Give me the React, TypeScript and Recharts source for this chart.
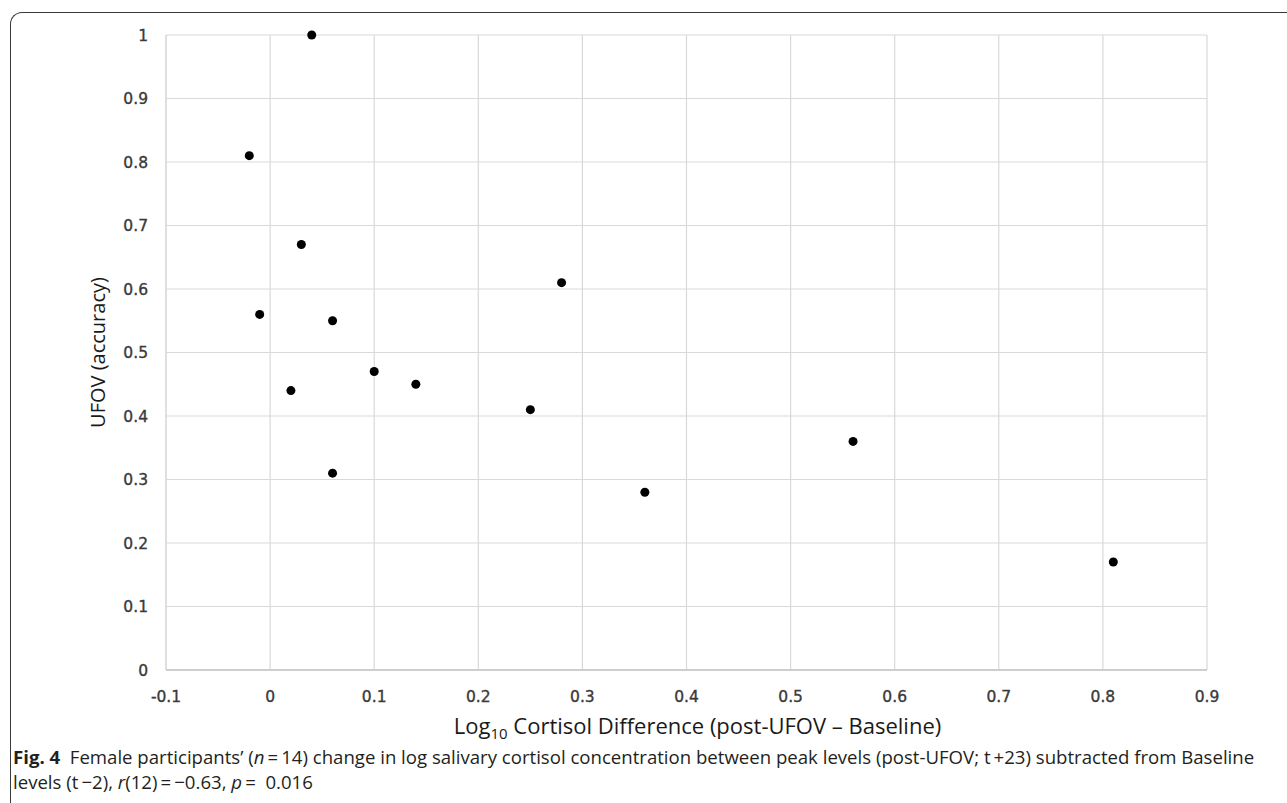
import { ScatterChart, Scatter, XAxis, YAxis, CartesianGrid, Label } from 'recharts';

// Log10 cortisol difference vs UFOV accuracy, one point per participant
const cortisolDiff = [0.04, -0.02, 0.03, -0.01, 0.06, 0.02, 0.1, 0.14, 0.06, 0.25, 0.28, 0.36, 0.56, 0.81];
const ufovAccuracy = [1.0, 0.81, 0.67, 0.56, 0.55, 0.44, 0.47, 0.45, 0.31, 0.41, 0.61, 0.28, 0.36, 0.17];

const xTicks = [-0.1, 0, 0.1, 0.2, 0.3, 0.4, 0.5, 0.6, 0.7, 0.8, 0.9];
const yTicks = [0, 0.1, 0.2, 0.3, 0.4, 0.5, 0.6, 0.7, 0.8, 0.9, 1];

const xTitle = 'Cortisol Difference (post-UFOV \u2013 Baseline)';
const yTitle = 'UFOV (accuracy)';

const points = cortisolDiff.map((x, i) => ({ x, y: ufovAccuracy[i] }));

const fmt = (v: number) => String(Number(v.toFixed(1)));

const tickStyle = {
  fill: '#3a3a3a',
  stroke: '#3a3a3a',
  strokeWidth: 0.35,
  fontSize: 15.5,
  fontFamily: 'DejaVu Sans',
};

const Dot = (props: any) => <circle cx={props.cx} cy={props.cy} r={4.5} fill="#000" />;

const XTitle = (props: any) => {
  const { viewBox } = props;
  const cx = viewBox.x + viewBox.width / 2 + 11;
  const cy = viewBox.y + 64;
  return (
    <text x={cx} y={cy} textAnchor="middle" fontFamily="Open Sans" fontSize={22} fill="#1a1a1a">
      Log<tspan fontSize={15} dy={5}>10</tspan>
      <tspan dy={-5}> {xTitle}</tspan>
    </text>
  );
};

export default function App() {
  return (
    <div style={{ position: 'absolute', left: 0, top: 0, width: 1287, height: 803, overflow: 'hidden', background: '#fff' }}>
      {/* frame */}
      <div
        style={{
          position: 'absolute',
          left: 10,
          top: 12,
          width: 1300,
          height: 800,
          borderTop: '1.5px solid #3a3a3a',
          borderLeft: '1.5px solid #3a3a3a',
          borderTopLeftRadius: 12,
        }}
      />

      <div style={{ position: 'absolute', left: 0, top: 0 }}>
        <ScatterChart width={1287} height={760} margin={{ top: 35, right: 80, bottom: 10, left: 0 }}>
          <CartesianGrid stroke="#d9d9d9" strokeWidth={1.2} />
          <XAxis
            type="number"
            dataKey="x"
            domain={[-0.1, 0.9]}
            ticks={xTicks}
            tickFormatter={fmt}
            axisLine={{ stroke: '#c4c4c4', strokeWidth: 1.5 }}
            tickLine={false}
            tickMargin={15}
            tick={tickStyle}
            height={80}
            interval={0}
          >
            <Label content={<XTitle />} />
          </XAxis>
          <YAxis
            type="number"
            dataKey="y"
            domain={[0, 1]}
            ticks={yTicks}
            tickFormatter={fmt}
            axisLine={{ stroke: '#d9d9d9', strokeWidth: 1.2 }}
            tickLine={false}
            tickMargin={12}
            tick={tickStyle}
            width={166}
            interval={0}
          >
            <Label
              value={yTitle}
              angle={-90}
              position="center"
              dx={15}
              style={{ fontFamily: 'Open Sans', fontSize: 20, fill: '#1a1a1a' }}
            />
          </YAxis>
          <Scatter data={points} shape={<Dot />} isAnimationActive={false} />
        </ScatterChart>
      </div>

      {/* caption */}
      <div
        style={{
          position: 'absolute',
          left: 13,
          top: 744,
          fontFamily: 'Open Sans',
          fontSize: 18.6,
          lineHeight: '25px',
          color: '#231f20',
          whiteSpace: 'nowrap',
        }}
      >
        <div>
          <b>Fig. 4</b>&nbsp;&nbsp;Female participants’ (<i>n</i>&thinsp;=&thinsp;14) change in log salivary cortisol concentration between peak levels (post-UFOV; t&thinsp;+23) subtracted from Baseline
        </div>
        <div>
          levels (t&thinsp;−2), <i>r</i>(12)&thinsp;=&thinsp;−0.63, <i>p</i>&thinsp;=&nbsp; 0.016
        </div>
      </div>
    </div>
  );
}
